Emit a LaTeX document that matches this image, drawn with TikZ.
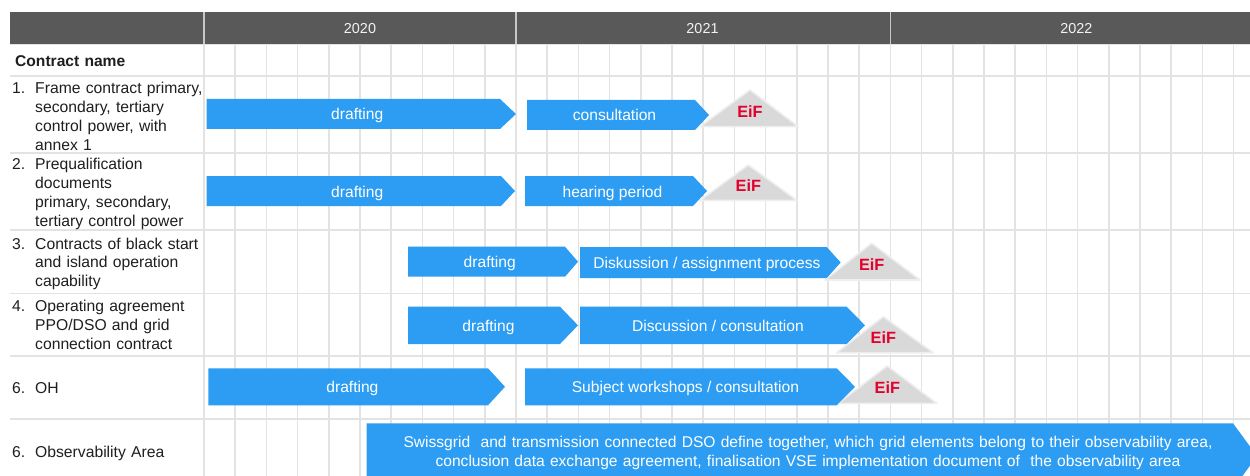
\documentclass[tikz,border=0pt]{standalone}
\usepackage{fontspec}
\setmainfont{Liberation Sans}
\definecolor{headgray}{HTML}{595959}
\definecolor{headtext}{HTML}{F2F2F2}
\definecolor{gridgray}{HTML}{E3E3E3}
\definecolor{divgray}{HTML}{C8C8C8}
\definecolor{barblue}{HTML}{2C9DF2}
\definecolor{trifill}{HTML}{D9D9D9}
\definecolor{triedge}{HTML}{EEEEEE}
\definecolor{eifred}{HTML}{E2002C}
\definecolor{labelcol}{HTML}{1F1F1F}
\newcommand\ganttbar[7]{% name, x0, x rect end, x tip, y top, y bottom, text
  \fill[barblue] (#2,#5) -- (#3,#5) -- (#4,{(#5+#6)/2}) -- (#3,#6) -- (#2,#6) -- cycle;
  \node[bartext] (#1) at ({(#2+#3)/2+(#4-#3)/4},{(#5+#6)/2+6}) {#7};
}
\newcommand\eifmark[6]{% name, apex x, apex y, left x, right x, base y
  \filldraw[trimark] (#2,#3) -- (#5,#6) -- (#4,#6) -- cycle;
  \node[eiftext] (#1) at (#2,{#3+0.75*(#6-#3)}) {EiF};
}
\begin{document}
\begin{tikzpicture}[x=1pt,y=-1pt,
  gridline/.style={draw=gridgray,line width=1.6pt},
  divline/.style={draw=divgray,line width=1.4pt},
  yeartext/.style={text=headtext,font=\fontsize{14.4}{17}\selectfont,inner sep=0pt},
  bartext/.style={text=white,font=\fontsize{15.6}{19}\selectfont,inner sep=0pt,anchor=base},
  eiftext/.style={text=eifred,font=\bfseries\fontsize{16.3}{19}\selectfont,inner sep=0pt,anchor=base},
  trimark/.style={fill=trifill,draw=triedge,line width=1.6pt,line join=round},
  numtext/.style={text=labelcol,font=\fontsize{15.7}{18.9}\selectfont,inner sep=0pt,anchor=base west},
  labeltext/.style={text=labelcol,font=\fontsize{15.7}{18.9}\selectfont,inner sep=0pt,anchor=base west,text width=200pt,align=left},
]
\useasboundingbox (0,0) rectangle (1250,476);
\fill[white] (0,0) rectangle (1250,476);
% grid
\foreach \i in {0,...,33} \draw[gridline] ({204+31.2*\i},44) -- ({204+31.2*\i},476);
\foreach \y in {44,76,153,230,293.3,356,419} \draw[gridline] (10,\y) -- (1250,\y);
% header
\fill[headgray] (10,12) rectangle (1250,44);
\draw[divline] (204,12) -- (204,44);
\draw[divline] (516,12) -- (516,44);
\draw[divline] (890.4,12) -- (890.4,44);
\node[yeartext] (y2020) at (360,29) {2020};
\node[yeartext] (y2021) at (702.5,29) {2021};
\node[yeartext] (y2022) at (1076.3,29) {2022};
% left column
\node[labeltext,font=\bfseries\fontsize{15.6}{18.9}\selectfont] (cn) at (15,66.7) {Contract name};
\node[numtext] (n1) at (12,94) {1.};
\node[labeltext] (l1) at (35,94) {Frame contract primary,\\secondary, tertiary\\control power, with\\annex 1};
\node[numtext] (n2) at (12,169.3) {2.};
\node[labeltext] (l2) at (35,169.3) {Prequalification\\documents\\primary, secondary,\\tertiary control power};
\node[numtext] (n3) at (12,249) {3.};
\node[labeltext] (l3) at (35,249) {Contracts of black start\\and island operation\\capability};
\node[numtext] (n4) at (12,311.7) {4.};
\node[labeltext] (l4) at (35,311.7) {Operating agreement\\PPO/DSO and grid\\connection contract};
\node[numtext] (n5) at (12,393.3) {6.};
\node[labeltext] (l5) at (35,393.3) {OH};
\node[numtext] (n6) at (12,457.7) {6.};
\node[labeltext] (l6) at (35,457.7) {Observability Area};
% EiF marks
\eifmark{e1}{750}{90}{700}{798.3}{126.7}
\eifmark{e2}{748.3}{165}{700}{797}{200.5}
\eifmark{e3}{871.7}{243.3}{825}{920}{280}
\eifmark{e4}{883.3}{316.7}{836.7}{933.3}{352.7}
\eifmark{e5}{887.3}{366}{838}{936.7}{403.3}
% bars
\ganttbar{d1}{206.5}{500}{516}{99}{129}{drafting}
\ganttbar{c1}{527}{695}{709}{100}{130}{consultation}
\ganttbar{d2}{206.5}{501}{515}{176}{206}{drafting}
\ganttbar{c2}{525}{693}{707}{176}{206}{hearing period}
\ganttbar{d3}{408}{565}{578}{246.7}{276.7}{drafting}
\ganttbar{c3}{580}{826.7}{840.7}{247}{278}{Diskussion / assignment process}
\ganttbar{d4}{408}{560}{578}{306.7}{344}{drafting}
\ganttbar{c4}{580}{846.7}{865}{306.7}{344}{Discussion / consultation}
\ganttbar{d5}{208.3}{488}{505}{368.3}{405.3}{drafting}
\ganttbar{c5}{525}{836.7}{855}{368.3}{405.3}{Subject workshops / consultation}
% observability bar
\fill[barblue] (366.7,423.3) -- (1233,423.3) -- (1257,456) -- (1233,489) -- (366.7,489) -- cycle;
\node[bartext,text width=900pt,align=center] (obs) at (808,447.7) {Swissgrid\ \ and transmission connected DSO define together, which grid elements belong to their observability area,\\conclusion data exchange agreement, finalisation VSE implementation document of\ \ the observability area};
\end{tikzpicture}
\end{document}
